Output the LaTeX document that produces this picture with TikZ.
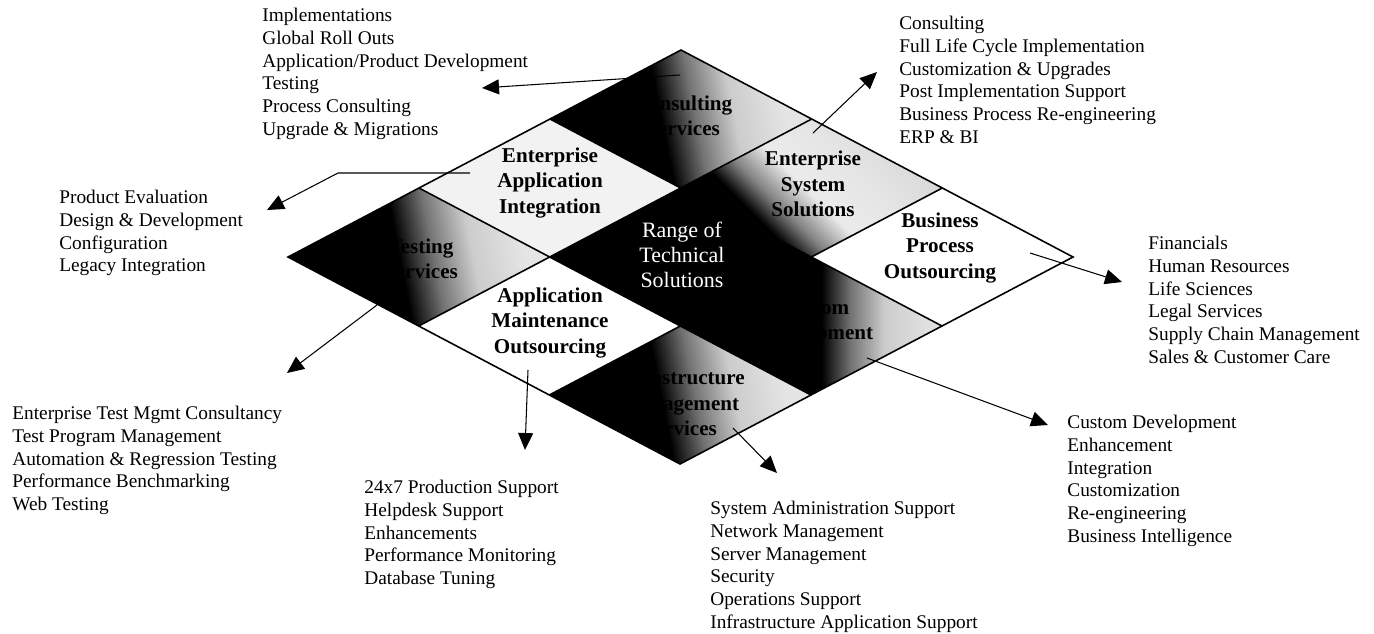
\documentclass[tikz,border=0pt]{standalone}
\usepackage{fontspec}
\setmainfont{Liberation Serif}
\usetikzlibrary{arrows.meta}

% dark-to-light fills of the shaded cells
\pgfdeclareverticalshading{fadecorner}{100bp}{color(0bp)=(black); color(46bp)=(black); color(53bp)=(black!55); color(61bp)=(black!20); color(72bp)=(black!10); color(100bp)=(black!10)}
\pgfdeclareverticalshading{fadecustom}{100bp}{color(0bp)=(black); color(52bp)=(black); color(57.5bp)=(black!55); color(64bp)=(black!20); color(72bp)=(black!12); color(100bp)=(black!12)}
\pgfdeclareverticalshading{fadesystem}{100bp}{color(0bp)=(black); color(35bp)=(black); color(41bp)=(black!50); color(49bp)=(black!8); color(60bp)=(black!10); color(100bp)=(black!25)}

\begin{document}
\begin{tikzpicture}[x=0.02cm, y=-0.02cm,
  grid line/.style={line width=0.9pt, line join=miter},
  dark cell/.style={shading=fadecorner, shading angle=-79},
  cell label/.style={align=center, inner sep=0pt, font=\bfseries\fontsize{12}{14.5}\selectfont},
  item list/.style={anchor=north west, align=left, inner sep=0pt, font=\fontsize{11}{12.9}\selectfont},
  pointer/.style={line width=0.6pt, -{Triangle[length=3.4mm, width=3mm]}}]

\useasboundingbox (0,0) rectangle (1374,633);

% corner points of the 3x3 diamond grid
\foreach \i in {0,...,3}
  \foreach \j in {0,...,3}
    \coordinate (p\i\j) at ({288+131*\i+130.67*\j}, {257-69*\i+69*\j});

% cell fills
\shade[dark cell] (p00) -- (p10) -- (p11) -- (p01) -- cycle;
\fill[black!5] (p10) -- (p20) -- (p21) -- (p11) -- cycle;
\shade[dark cell] (p20) -- (p30) -- (p31) -- (p21) -- cycle;
\fill (p11) -- (p21) -- (p22) -- (p12) -- cycle;
\shade[shading=fadesystem, shading angle=-45] (p21) -- (p31) -- (p32) -- (p22) -- cycle;
\shade[dark cell] (p02) -- (p12) -- (p13) -- (p03) -- cycle;
\shade[shading=fadecustom, shading angle=-90] (p12) -- (p22) -- (p23) -- (p13) -- cycle;

% outline and inner lines
\draw[grid line] (p00) -- (p30) -- (p33) -- (p03) -- cycle;
\foreach \k in {1,2} {
  \draw[grid line] (p\k0) -- (p\k3);
  \draw[grid line] (p0\k) -- (p3\k);
}

% cell labels
\node[cell label] (ts) at (421,259) {Testing\\Services};
\node[cell label] (eai) at (550,183) {Enterprise\\Application\\Integration};
\node[cell label] (cs) at (683,116) {Consulting\\Services};
\node[cell label] (amo) at (550,323) {Application\\Maintenance\\Outsourcing};
\node[cell label, font=\fontsize{12.5}{14.2}\selectfont, text=white] (rts) at (682,255) {Range of\\Technical\\Solutions};
\node[cell label] (ess) at (813,184) {Enterprise\\System\\Solutions};
\node[cell label] (ims) at (680,403) {Infrastructure\\Management\\Services};
\node[cell label] (cd) at (814,322) {Custom\\Development};
\node[cell label] (bpo) at (940,248) {Business\\Process\\Outsourcing};

% service lists
\node[item list] (cs-list) at (262,8) {Implementations\\Global Roll Outs\\Application/Product Development\\Testing\\Process Consulting\\Upgrade \& Migrations};
\node[item list] (ess-list) at (899,16) {Consulting\\Full Life Cycle Implementation\\Customization \& Upgrades\\Post Implementation Support\\Business Process Re-engineering\\ERP \& BI};
\node[item list] (eai-list) at (59,190) {Product Evaluation\\Design \& Development\\Configuration\\Legacy Integration};
\node[item list] (bpo-list) at (1148,236) {Financials\\Human Resources\\Life Sciences\\Legal Services\\Supply Chain Management\\Sales \& Customer Care};
\node[item list] (ts-list) at (12,406) {Enterprise Test Mgmt Consultancy\\Test Program Management\\Automation \& Regression Testing\\Performance Benchmarking\\Web Testing};
\node[item list] (amo-list) at (364,480) {24x7 Production Support\\Helpdesk Support\\Enhancements\\Performance Monitoring\\Database Tuning};
\node[item list] (ims-list) at (710,501) {System Administration Support\\Network Management\\Server Management\\Security\\Operations Support\\Infrastructure Application Support};
\node[item list] (cd-list) at (1067,415) {Custom Development\\Enhancement\\Integration\\Customization\\Re-engineering\\Business Intelligence};

% pointer ends
\coordinate (cs-from) at (680,75);   \coordinate (cs-to) at (482,88);
\coordinate (ess-from) at (813,133); \coordinate (ess-to) at (877,72);
\coordinate (eai-from) at (470,173); \coordinate (eai-bend) at (338,173); \coordinate (eai-to) at (267,210);
\coordinate (bpo-from) at (1030,253); \coordinate (bpo-to) at (1122,282);
\coordinate (ts-from) at (377,305);  \coordinate (ts-to) at (287,373);
\coordinate (amo-from) at (528,370); \coordinate (amo-to) at (525,450);
\coordinate (ims-from) at (733,428); \coordinate (ims-to) at (777,473);
\coordinate (cd-from) at (867,358);  \coordinate (cd-to) at (1048,425);

\draw[pointer] (cs-from) -- (cs-to);
\draw[pointer] (ess-from) -- (ess-to);
\draw[pointer] (eai-from) -- (eai-bend) -- (eai-to);
\draw[pointer] (bpo-from) -- (bpo-to);
\draw[pointer] (ts-from) -- (ts-to);
\draw[pointer] (amo-from) -- (amo-to);
\draw[pointer] (ims-from) -- (ims-to);
\draw[pointer] (cd-from) -- (cd-to);

\end{tikzpicture}
\end{document}
